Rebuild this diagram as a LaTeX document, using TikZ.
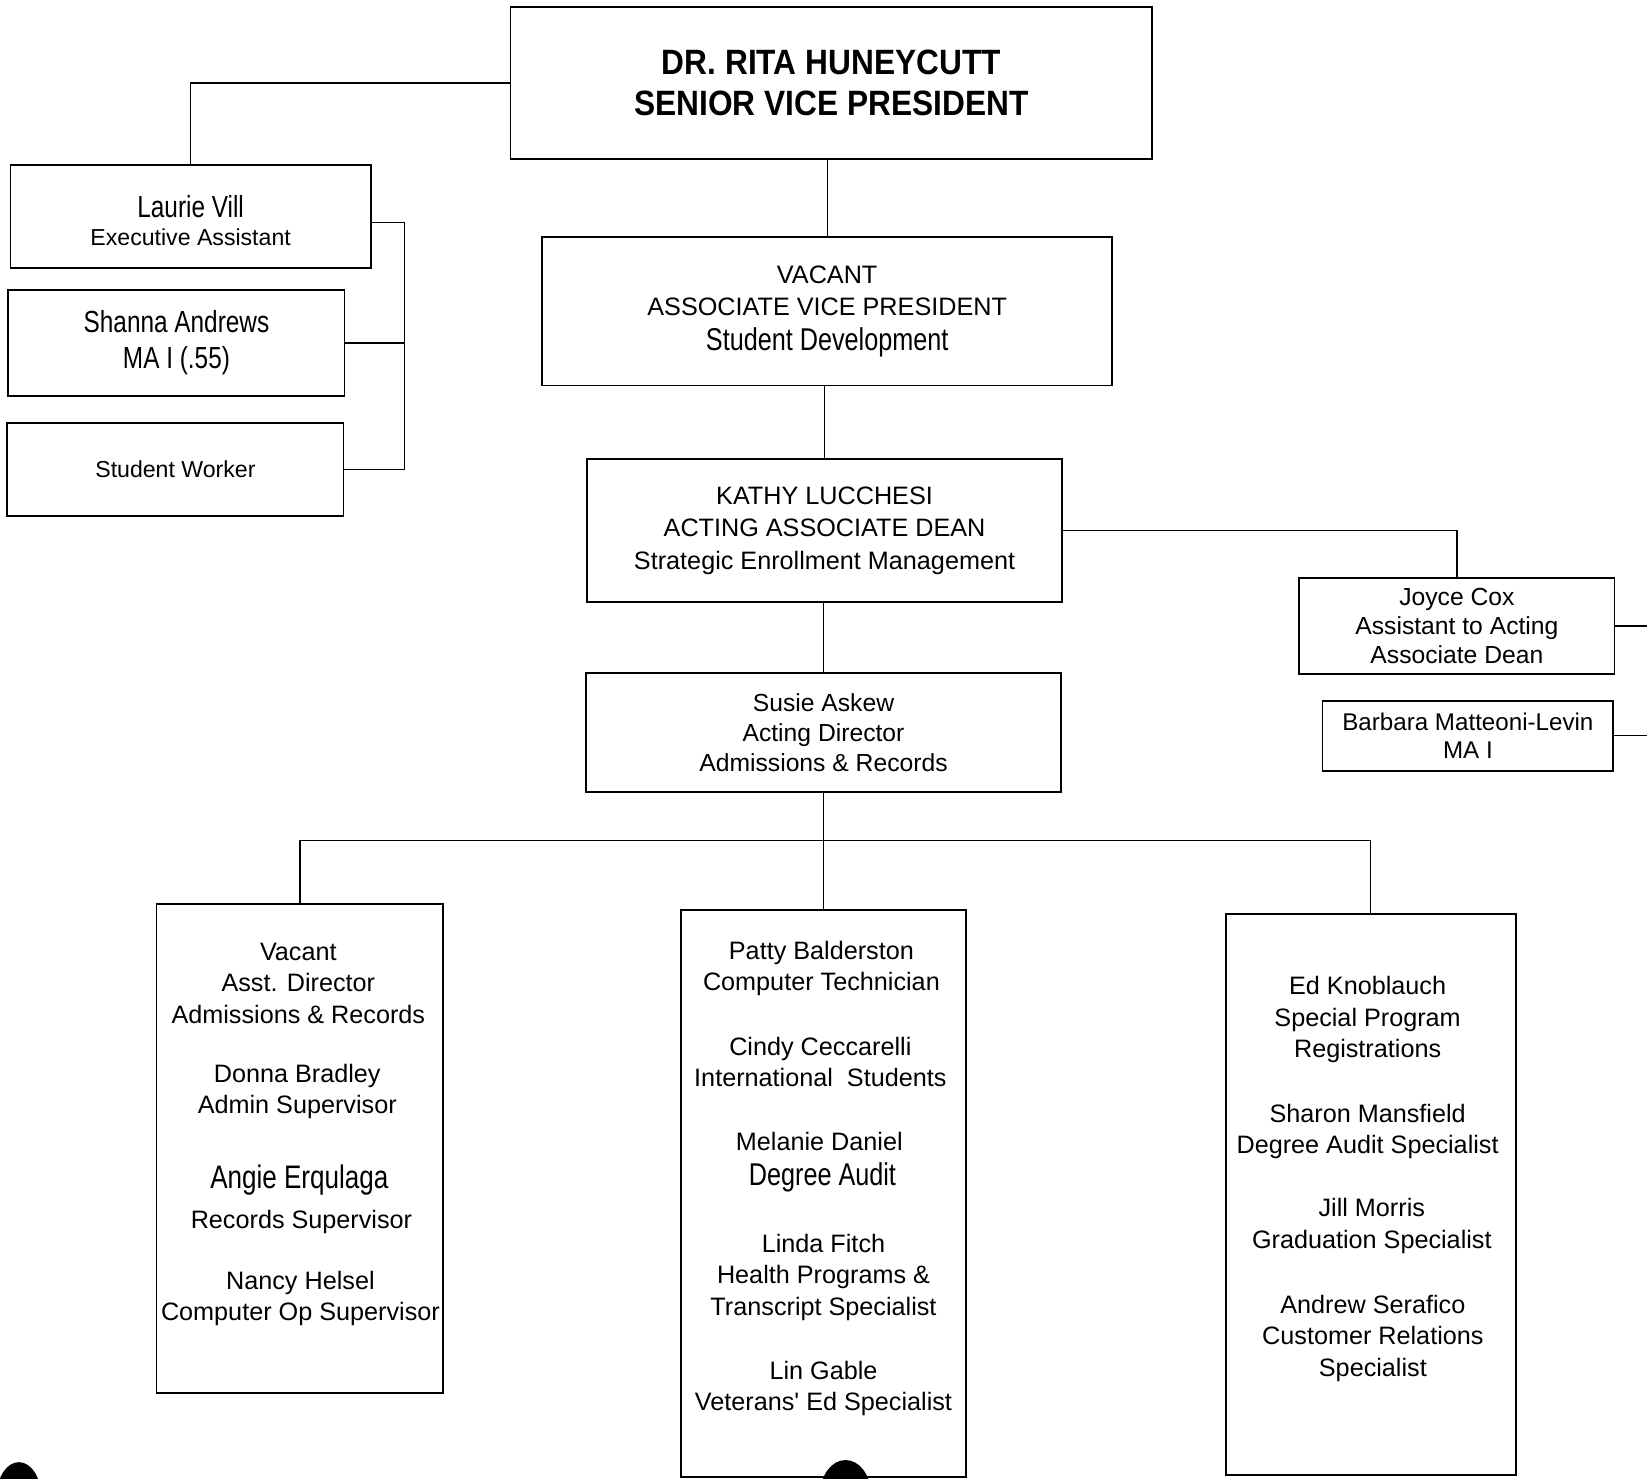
\documentclass[tikz,border=0pt]{standalone}
\usepackage{fontspec}
\setmainfont{Liberation Sans}
\newfontfamily\narrowfont[FakeStretch=0.8]{Liberation Sans}
\newfontfamily\headfont[FakeStretch=0.9]{Liberation Sans}
\usetikzlibrary{positioning}
\newcommand{\fsz}[2]{\fontsize{#1}{#2}\selectfont}

\begin{document}
\begin{tikzpicture}[
  x=1pt, y=-1pt,
  box/.style={draw=black, line width=1.8pt, align=center, inner sep=0pt,
              font=\fsz{24}{30}},
  lane/.style={draw=black, line width=1.8pt, inner sep=0pt},
  entry/.style={align=center, inner sep=0pt, font=\fsz{24}{30}},
  big/.style={inner sep=0pt, font=\narrowfont\fsz{30}{34}},
  ln/.style={line width=1.2pt},
]
\useasboundingbox (0,0) rectangle (1568,1408);

% office of the senior vice president
\node[box, minimum width=611pt, minimum height=144pt,
      font=\headfont\bfseries\fsz{33.5}{39}] (svp) at (791.5,79)
  {DR. RITA HUNEYCUTT\\SENIOR VICE PRESIDENT};

\node[box, minimum width=343pt, minimum height=98pt, font=\fsz{22}{27}] (laurie) at (181.5,206)
  {{\narrowfont\fsz{29}{30}\rule{0pt}{29pt}Laurie Vill}\\Executive Assistant};
\node[box, minimum width=320pt, minimum height=101pt,
      font=\narrowfont\fsz{29}{34}] (shanna) at (168,326.5)
  {Shanna Andrews\\MA I (.55)};
\node[box, minimum width=320pt, minimum height=88pt, font=\fsz{22}{26}] (student) at (167,447)
  {Student Worker};

\node[box, minimum width=543pt, minimum height=141pt] (avp) at (787.5,296.5)
  {VACANT\\ASSOCIATE VICE PRESIDENT\\[3pt]{\narrowfont\fsz{30}{34}Student Development}};

\node[box, minimum width=452pt, minimum height=136pt, font=\fsz{24}{31}] (dean) at (785,505)
  {KATHY LUCCHESI\\ACTING ASSOCIATE DEAN\\Strategic Enrollment Management};

\node[box, minimum width=300pt, minimum height=92pt, font=\fsz{23.5}{28}] (joyce) at (1387,596)
  {Joyce Cox\\Assistant to Acting\\Associate Dean};
\node[box, minimum width=277pt, minimum height=67pt, font=\fsz{23}{26}] (barbara) at (1397.5,700.5)
  {Barbara Matteoni-Levin\\MA I};

\node[box, minimum width=452pt, minimum height=113pt, font=\fsz{23.5}{29}] (susie) at (784,697.5)
  {Susie Askew\\Acting Director\\Admissions \& Records};

% staff columns
\node[lane, minimum width=273pt, minimum height=465pt] (colA) at (285.5,1093.5) {};
\node[lane, minimum width=272pt, minimum height=540pt] (colB) at (784,1136) {};
\node[lane, minimum width=276pt, minimum height=534pt] (colC) at (1305,1137) {};

\node[entry] (vacant) at (284,936) {Vacant\\Asst. Director\\Admissions \& Records};
\node[entry] (donna) at (283,1039) {Donna Bradley\\Admin Supervisor};
\node[big, font=\narrowfont\fsz{31}{34}] (angie) at (285,1123) {Angie Erqulaga};
\node[entry] (angiejob) at (287,1163) {Records Supervisor};
\node[entry] (nancy) at (286,1236) {Nancy Helsel\\Computer Op Supervisor};

\node[entry] (patty) at (782,922) {Patty Balderston\\Computer Technician};
\node[entry] (cindy) at (781,1011) {Cindy Ceccarelli\\International\ \ Students};
\node[entry] (melanie) at (780,1087) {Melanie Daniel};
\node[big] (melaniejob) at (783,1121) {Degree Audit};
\node[entry] (linda) at (784,1216) {Linda Fitch\\Health Programs \&\\Transcript Specialist};
\node[entry] (lin) at (784,1322) {Lin Gable\\Veterans\textquotesingle\ Ed Specialist};

\node[entry] (ed) at (1302,971) {Ed Knoblauch\\Special Program\\Registrations};
\node[entry] (sharon) at (1302,1077) {Sharon Mansfield\\Degree Audit Specialist};
\node[entry] (jill) at (1306,1167) {Jill Morris\\Graduation Specialist};
\node[entry] (andrew) at (1307,1274) {Andrew Serafico\\Customer Relations\\Specialist};

% connectors
\coordinate (brk) at (385,0);
\coordinate (edge) at (1568,0);
\coordinate (bar) at (0,800);

\draw[ln] (svp.west) -| (laurie.north);
\draw[ln] ([yshift=-6pt]laurie.east) -- ([yshift=-6pt]laurie.east -| brk)
  -- (student.east -| brk) -- (student.east);
\draw[ln] (shanna.east) -- (shanna.east -| brk);

\draw[ln] (avp.north) -- (avp.north |- svp.south);
\draw[ln] (dean.north) -- (dean.north |- avp.south);
\draw[ln] (susie.north) -- (susie.north |- dean.south);

\draw[ln] (dean.east) -| (joyce.north);
\draw[ln] (joyce.east) -- (joyce.east -| edge);
\draw[ln] (barbara.east) -- (barbara.east -| edge);

\draw[ln] (susie.south) -- (colB.north);
\draw[ln] (colA.north) -- (colA.north |- bar) -- (colC.north |- bar) -- (colC.north);

% punch holes along the bottom edge
\begin{scope}
  \clip (0,0) rectangle (1568,1408);
  \fill (18,1424) ellipse [x radius=21, y radius=32];
  \fill (805,1422) ellipse [x radius=24, y radius=32];
\end{scope}
\end{tikzpicture}
\end{document}
